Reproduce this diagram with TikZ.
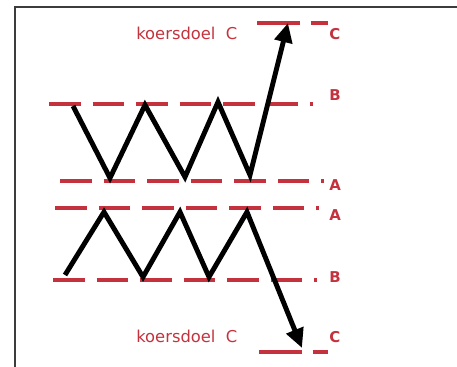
\documentclass[tikz,border=0pt]{standalone}
\usepackage{fontspec}
\setsansfont{DejaVu Sans}
\usetikzlibrary{arrows.meta}
\definecolor{LevelRed}{RGB}{196,50,62}
\definecolor{FrameGray}{RGB}{60,60,60}

\begin{document}
\begin{tikzpicture}[x=0.02cm, y=-0.02cm, >={Triangle[length=11pt,width=10pt]},
  level/.style={LevelRed, line width=1.9pt, dash pattern=on 18pt off 6.8pt},
  price/.style={black, line width=2.8pt, miter limit=4},
  lvl/.style={LevelRed, font=\sffamily\bfseries\fontsize{8.5}{10}\selectfont, anchor=base west, inner sep=0pt},
  goal/.style={LevelRed, font=\sffamily\fontsize{9.3}{11}\selectfont, anchor=base west, inner sep=0pt}]
  \useasboundingbox (0,0) rectangle (457,367);
  % frame
  \draw[FrameGray, line width=1.1pt] (15,367) -- (15,7) -- (460,7);

  % upper pattern: breakout upwards
  \coordinate (uC1) at (257,23); \coordinate (uC2) at (328,23);
  \coordinate (uB1) at (49,104); \coordinate (uB2) at (313,104);
  \coordinate (uA1) at (60,181); \coordinate (uA2) at (324,181);
  \draw[LevelRed, line width=1.9pt, dash pattern=on 24.5pt off 6pt] (uC1) -- (uC2);
  \draw[level] (uB1) -- (uB2);
  \draw[level] (uA1) -- (uA2);
  \node[goal] (uGoal) at (136,40) {koersdoel\ \ C};
  \node[lvl] (uLC) at (329,40) {C};
  \node[lvl] (uLB) at (329,101) {B};
  \node[lvl] (uLA) at (329,191) {A};
  \coordinate (u0) at (73,106);  \coordinate (u1) at (110,178);
  \coordinate (u2) at (145,105); \coordinate (u3) at (185,177);
  \coordinate (u4) at (218,102); \coordinate (u5) at (250,175);
  \coordinate (uT) at (288,23);
  \draw[price, ->] (u0) -- (u1) -- (u2) -- (u3) -- (u4) -- (u5) -- (uT);

  % lower pattern: breakout downwards
  \coordinate (lA1) at (55,208);  \coordinate (lA2) at (319,208);
  \coordinate (lB1) at (53,280);  \coordinate (lB2) at (317,280);
  \coordinate (lC1) at (259,352); \coordinate (lC2) at (328,352);
  \draw[level] (lA1) -- (lA2);
  \draw[level] (lB1) -- (lB2);
  \draw[LevelRed, line width=1.9pt, dash pattern=on 24.5pt off 6pt] (lC1) -- (lC2);
  \node[goal] (lGoal) at (136,343) {koersdoel\ \ C};
  \node[lvl] (lLA) at (329,221) {A};
  \node[lvl] (lLB) at (329,283) {B};
  \node[lvl] (lLC) at (329,343) {C};
  \coordinate (l0) at (65,275);  \coordinate (l1) at (104,212);
  \coordinate (l2) at (143,277); \coordinate (l3) at (180,212);
  \coordinate (l4) at (209,277); \coordinate (l5) at (247,212);
  \coordinate (lT) at (302,348);
  \draw[price, ->] (l0) -- (l1) -- (l2) -- (l3) -- (l4) -- (l5) -- (lT);
\end{tikzpicture}
\end{document}
